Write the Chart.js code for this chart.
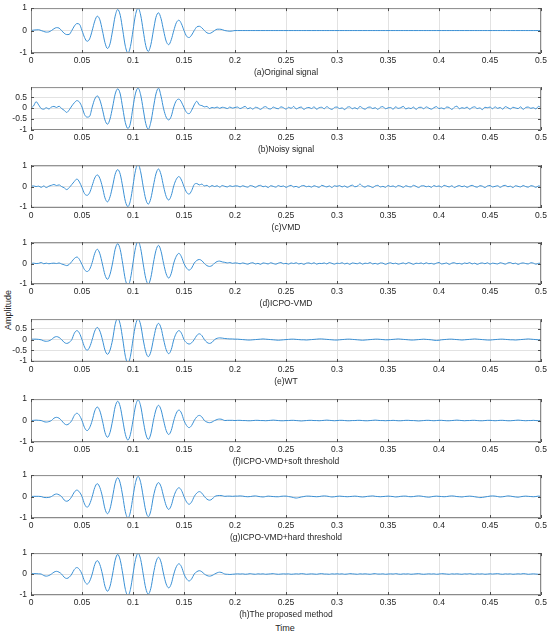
<!DOCTYPE html>
<html>
<head>
<meta charset="utf-8">
<script src="https://cdn.jsdelivr.net/npm/chart.js@4.4.0/dist/chart.umd.min.js"></script>
<style>
body { margin: 0; background: #fff; }
#wrap { position: relative; width: 550px; height: 644px; font-family: "Liberation Sans", Arial, sans-serif; color: #262626; }
canvas { position: absolute; left: 0; }
.lbl { position: absolute; font-size: 9px; transform: translate(-50%, -50%); white-space: nowrap; }
#ylab { left: 8px; top: 310px; transform: translate(-50%, -50%) rotate(-90deg); }
#xlab { left: 285px; top: 628px; }
</style>
</head>
<body>
<div id="wrap">
  <div class="lbl" id="ylab">Amplitude</div>
  <div class="lbl" id="xlab">Time</div>
</div>
<script>
// sample instants, 0 .. 0.5 s every 0.0025 s
const time = Array.from({ length: 201 }, (_, i) => +(i * 0.0025).toFixed(4));

const xTicks = [0, 0.05, 0.1, 0.15, 0.2, 0.25, 0.3, 0.35, 0.4, 0.45, 0.5];
const yTicksUnit = [-1, 0, 1];
const yTicksHalf = [-1, -0.5, 0, 0.5];

const captions = ['(a)Original signal', '(b)Noisy signal', '(c)VMD', '(d)ICPO-VMD', '(e)WT',
  '(f)ICPO-VMD+soft threshold', '(g)ICPO-VMD+hard threshold', '(h)The proposed method'];

const original = [
  0,0.02,0.03,0.035,0,-0.04,-0.07,-0.06,0,0.08,0.13,0.11,0,-0.12,-0.18,-0.17,0,0.2,0.31,0.28,
  0,-0.31,-0.48,-0.37,0,0.42,0.64,0.48,0,-0.54,-0.8,-0.59,0,0.64,0.94,0.68,0,-0.7,-1.0,-0.71,
  0,0.71,1.0,0.69,0,-0.67,-0.93,-0.63,0,0.59,0.79,0.53,0,-0.47,-0.63,-0.41,0,0.35,0.46,0.3,
  0,-0.25,-0.31,-0.2,0,0.16,0.19,0.12,0,-0.1,-0.13,-0.08,0,0.06,0.06,0.04,0,-0.02,-0.03,-0.02,
  0,
  0,0,0,0,0,0,0,0,0,0,0,0,0,0,0,0,0,0,0,0,
  0,0,0,0,0,0,0,0,0,0,0,0,0,0,0,0,0,0,0,0,
  0,0,0,0,0,0,0,0,0,0,0,0,0,0,0,0,0,0,0,0,
  0,0,0,0,0,0,0,0,0,0,0,0,0,0,0,0,0,0,0,0,
  0,0,0,0,0,0,0,0,0,0,0,0,0,0,0,0,0,0,0,0,
  0,0,0,0,0,0,0,0,0,0,0,0,0,0,0,0,0,0,0,0
];

const noisy = [
  0,0.1,0.3,0.15,-0.02,-0.05,0.02,-0.04,0.05,0.08,0.03,0.09,-0.02,-0.1,-0.2,-0.08,0.1,0.25,0.35,0.28,
  0.05,-0.3,-0.42,-0.38,0.05,0.42,0.57,0.38,-0.05,-0.55,-0.75,-0.5,0.05,0.65,0.9,0.66,-0.02,-0.68,-0.95,-0.7,
  0.05,0.7,0.93,0.62,-0.05,-0.72,-0.98,-0.65,0.02,0.66,0.93,0.55,-0.03,-0.42,-0.55,-0.38,0.06,0.35,0.42,0.28,
  0.02,-0.2,-0.26,-0.1,0.15,0.32,0.15,0.12,0.06,0.08,-0.02,0.03,0.01,0.05,-0.01,0.04,0.02,-0.02,0.05,0.0,
  0.03,
  0.05,-0.02,0.03,0.08,-0.03,0.02,-0.05,0.04,0.01,-0.06,0.03,0.07,-0.02,-0.04,0.05,0.0,-0.03,0.06,0.02,-0.05,
  0.04,-0.01,0.08,-0.04,0.02,0.05,-0.06,0.01,0.03,-0.02,0.06,-0.05,0.02,0.04,-0.03,0.07,-0.01,-0.06,0.03,0.05,
  -0.02,0.01,-0.07,0.04,0.06,-0.03,0.02,-0.04,0.08,0.0,-0.05,0.03,0.05,-0.02,0.02,-0.06,0.04,0.07,-0.03,0.01,
  0.03,-0.05,0.06,-0.01,0.02,0.08,-0.04,0.01,-0.02,0.05,-0.06,0.03,0.04,-0.03,0.06,0.0,-0.05,0.02,0.07,-0.02,
  0.01,-0.04,0.05,0.03,-0.06,0.04,0.09,-0.03,0.02,-0.01,0.05,-0.05,0.03,0.06,-0.02,0.01,-0.07,0.04,0.02,0.05,
  -0.03,0.06,-0.01,0.03,-0.05,0.07,0.02,-0.04,0.04,0.01,-0.02,0.06,-0.06,0.03,0.05,-0.01,0.02,-0.04,0.08,0.03
];

const vmd = [
  0.02,0.03,0.0,0.02,-0.04,0.03,-0.05,0.02,0.06,0.1,0.05,0.08,0.0,-0.06,-0.15,-0.05,0.1,0.25,0.37,0.22,
  -0.05,-0.35,-0.43,-0.3,0.05,0.42,0.57,0.4,-0.02,-0.55,-0.75,-0.5,0.02,0.6,0.83,0.6,-0.04,-0.72,-0.98,-0.68,
  0.05,0.8,1.1,0.72,0.0,-0.62,-0.86,-0.58,0.04,0.62,0.86,0.58,0.0,-0.48,-0.66,-0.44,0.04,0.36,0.49,0.32,
  0.0,-0.28,-0.37,-0.2,0.1,0.15,0.08,0.12,0.03,0.06,-0.02,0.05,0.0,0.04,-0.03,0.05,0.01,-0.02,0.04,0.0,
  0.03,
  0.03,-0.02,0.04,0.0,-0.03,0.05,0.02,-0.04,0.03,0.06,-0.01,0.02,-0.05,0.04,0.01,-0.03,0.05,0.0,0.03,-0.04,
  0.02,0.06,-0.02,0.01,-0.05,0.03,0.05,-0.01,0.02,-0.03,0.04,0.0,-0.04,0.06,0.02,-0.02,0.03,-0.05,0.04,0.01,
  0.05,-0.02,0.03,-0.04,0.02,0.07,-0.01,0.02,0.12,0.02,-0.03,0.04,0.01,-0.05,0.03,0.06,-0.02,0.01,-0.04,0.05,
  0.0,0.03,-0.03,0.05,0.02,-0.04,0.04,0.0,-0.02,0.06,0.01,-0.05,0.03,0.04,-0.01,0.02,-0.04,0.05,0.0,0.03,
  -0.03,0.06,0.02,-0.02,0.04,-0.05,0.01,0.05,-0.01,0.03,-0.04,0.02,0.06,0.0,-0.03,0.04,0.02,-0.05,0.03,0.05,
  -0.02,0.01,0.04,-0.04,0.03,0.06,-0.01,0.02,-0.05,0.04,0.01,-0.02,0.05,0.0,-0.03,0.04,0.02,-0.04,0.03,0.01
];

const icpoVmd = [
  0.0,0.02,0.0,0.01,0.05,-0.01,0.02,-0.01,0.01,0.02,0.0,0.03,-0.02,-0.06,-0.1,-0.04,0.1,0.25,0.32,0.2,
  -0.05,-0.3,-0.39,-0.28,0.05,0.5,0.7,0.48,-0.02,-0.55,-0.77,-0.52,0.03,0.7,0.97,0.68,-0.03,-0.78,-1.08,-0.74,
  0.03,0.78,1.1,0.74,-0.02,-0.72,-1.02,-0.68,0.03,0.64,0.89,0.6,0.0,-0.5,-0.71,-0.48,0.03,0.36,0.5,0.33,
  0.0,-0.22,-0.32,-0.22,0.02,0.15,0.2,0.14,0.0,-0.1,-0.14,-0.1,0.02,0.1,0.12,0.08,0.06,0.03,0.05,0.01,
  0.03,
  0.02,-0.01,0.03,0.0,-0.03,0.02,0.04,-0.02,0.01,-0.04,0.03,0.01,-0.02,0.04,0.0,-0.03,0.02,0.05,-0.01,0.01,
  -0.03,0.03,0.0,0.04,-0.02,0.01,-0.04,0.02,0.03,-0.01,0.04,-0.03,0.01,0.0,0.03,-0.02,0.05,0.01,-0.03,0.02,
  0.0,0.04,-0.02,0.02,-0.04,0.03,0.01,-0.01,0.04,-0.03,0.02,0.0,0.05,-0.02,0.01,-0.03,0.03,0.02,-0.04,0.01,
  0.04,-0.01,0.02,-0.03,0.0,0.03,-0.02,0.05,0.01,-0.04,0.02,0.0,0.03,-0.02,0.04,-0.01,0.01,-0.03,0.02,0.05,
  -0.02,0.0,0.03,-0.04,0.02,0.04,-0.01,0.01,-0.03,0.03,0.0,0.05,-0.02,0.02,-0.04,0.01,0.03,-0.01,0.04,-0.03,
  0.02,0.0,-0.02,0.04,0.01,-0.03,0.03,0.05,-0.01,0.02,-0.04,0.01,0.03,0.0,-0.02,0.04,0.02,-0.03,0.01,0.02
];

const wt = [
  0.02,0.02,0.02,0.01,-0.01,-0.06,-0.08,-0.06,0.0,0.1,0.14,0.1,0.0,-0.13,-0.18,-0.13,0.0,0.3,0.42,0.3,
  0,-0.35,-0.5,-0.35,0,0.4,0.57,0.4,0,-0.49,-0.69,-0.49,0,0.71,1.0,0.71,0,-0.78,-1.1,-0.78,
  0,0.69,0.98,0.69,0,-0.57,-0.8,-0.57,0,0.54,0.76,0.54,0,-0.47,-0.66,-0.47,0,0.3,0.42,0.3,
  0,-0.15,-0.21,-0.15,0,0.19,0.27,0.19,0,-0.13,-0.18,-0.13,0,0.06,0.08,0.07,0.05,0.04,0.03,0.03,
  0.02,
  0.02,0.01,0.0,-0.01,-0.02,-0.02,-0.01,0.0,0.01,0.02,0.03,0.02,0.01,0.0,-0.01,-0.02,-0.03,-0.02,-0.01,0.0,
  0.01,0.02,0.02,0.01,0.0,-0.01,-0.01,-0.02,-0.01,0.0,0.01,0.02,0.03,0.03,0.02,0.01,0.0,-0.01,-0.02,-0.02,
  -0.01,0.0,0.01,0.02,0.02,0.01,0.0,-0.01,-0.02,-0.03,-0.02,-0.01,0.0,0.01,0.02,0.02,0.01,0.0,-0.01,-0.01,
  0.0,0.01,0.02,0.03,0.02,0.01,0.0,-0.01,-0.02,-0.02,-0.01,0.0,0.01,0.02,0.01,0.0,-0.01,-0.03,-0.04,-0.03,
  -0.01,0.0,0.01,0.02,0.02,0.01,0.0,-0.01,-0.02,-0.01,0.0,0.01,0.02,0.03,0.02,0.01,0.0,-0.01,-0.02,-0.02,
  -0.01,0.0,0.01,0.02,0.02,0.01,0.0,-0.01,-0.01,-0.02,-0.01,0.0,0.01,0.02,0.03,0.02,0.01,0.0,-0.01,0.0
];

const softThr = [
  0,0.01,0.02,0.01,0,-0.05,-0.07,-0.05,0,0.11,0.15,0.11,0,-0.14,-0.2,-0.14,0,0.24,0.34,0.24,
  0,-0.33,-0.47,-0.33,0,0.45,0.63,0.45,0,-0.55,-0.78,-0.55,0,0.64,0.9,0.64,0,-0.64,-0.91,-0.64,
  0,0.68,0.96,0.68,0,-0.62,-0.88,-0.62,0,0.5,0.71,0.5,0,-0.46,-0.65,-0.46,0,0.35,0.49,0.35,
  0,-0.23,-0.33,-0.23,0,0.17,0.24,0.17,0,-0.07,-0.1,-0.07,0,0.05,0.07,0.05,0,0.01,0.01,0.01,
  0,
  0.01,0.01,0.0,0.0,-0.01,-0.01,0.0,0.01,0.01,0.0,0.0,-0.01,0.0,0.01,0.02,0.01,0.0,-0.01,-0.01,0.0,
  0.0,0.01,0.01,0.0,-0.01,-0.02,-0.01,0.0,0.01,0.01,0.0,0.0,-0.01,0.0,0.01,0.02,0.01,0.0,-0.01,0.0,
  0.01,0.01,0.0,-0.01,-0.01,0.0,0.0,0.01,0.01,0.0,-0.01,-0.01,0.0,0.01,0.02,0.01,0.0,0.0,-0.01,0.0,
  0.0,0.01,0.0,-0.01,-0.01,0.0,0.01,0.01,0.0,0.0,-0.01,-0.02,-0.01,0.0,0.01,0.01,0.0,-0.01,0.0,0.01,
  0.01,0.0,-0.01,-0.01,0.0,0.01,0.02,0.01,0.0,-0.01,0.0,0.0,0.01,0.01,0.0,-0.01,-0.01,0.0,0.01,0.01,
  0.0,-0.01,0.0,0.01,0.01,0.0,-0.01,-0.01,0.0,0.01,0.02,0.01,0.0,-0.01,0.0,0.0,0.01,0.0,-0.01,0.0
];

const hardThr = [
  0,0.01,0.01,0.01,0,-0.04,-0.05,-0.04,0,0.08,0.12,0.08,0,-0.16,-0.22,-0.16,0,0.21,0.3,0.21,
  0,-0.35,-0.5,-0.35,0,0.42,0.6,0.42,0,-0.57,-0.8,-0.57,0,0.62,0.88,0.62,0,-0.71,-1.0,-0.71,
  0,0.66,0.94,0.66,0,-0.66,-0.94,-0.66,0,0.46,0.65,0.46,0,-0.42,-0.6,-0.42,0,0.29,0.41,0.29,
  0,-0.25,-0.36,-0.25,0,0.16,0.23,0.16,0,-0.12,-0.17,-0.12,0,0.04,0.05,0.04,0.01,0.02,0.02,0.01,
  0.02,
  0.02,0.03,0.02,0.0,-0.01,0.0,0.02,0.03,0.01,-0.01,-0.02,0.0,0.02,0.01,0.0,-0.01,-0.01,0.01,0.02,0.02,
  0.0,-0.02,-0.05,-0.07,-0.05,-0.02,0.0,0.02,0.02,0.01,0.0,-0.01,0.0,0.02,0.03,0.02,0.0,-0.02,-0.01,0.01,
  0.02,0.01,0.0,-0.01,0.0,0.01,0.02,0.01,-0.01,-0.02,-0.01,0.01,0.02,0.03,0.01,0.0,-0.01,0.0,0.01,0.02,
  0.01,0.0,-0.02,-0.01,0.01,0.02,0.02,0.0,-0.01,0.0,0.02,0.03,0.02,0.0,-0.02,-0.03,-0.01,0.01,0.02,0.01,
  0.0,-0.01,0.0,0.02,0.03,0.02,0.0,-0.01,-0.02,0.0,0.01,0.02,0.01,-0.01,-0.03,-0.05,-0.04,-0.02,0.0,0.02,
  0.03,0.02,0.0,-0.02,-0.01,0.01,0.03,0.02,0.0,-0.02,-0.03,-0.01,0.01,0.02,0.01,0.0,-0.01,0.0,0.02,0.01
];

const proposed = [
  0.02,0.02,0.02,0.01,0,-0.07,-0.1,-0.07,0,0.09,0.13,0.09,0,-0.15,-0.21,-0.15,0,0.22,0.31,0.22,
  0,-0.34,-0.48,-0.34,0,0.45,0.64,0.45,0,-0.58,-0.82,-0.58,0,0.66,0.94,0.66,0,-0.73,-1.03,-0.73,
  0,0.7,0.99,0.7,0,-0.68,-0.96,-0.68,0,0.57,0.8,0.57,0,-0.47,-0.66,-0.47,0,0.35,0.49,0.35,
  0,-0.23,-0.33,-0.23,0,0.11,0.16,0.11,0,-0.07,-0.1,-0.07,0,0.06,0.09,0.06,0,-0.01,-0.02,-0.01,
  0,
  0.01,0.0,0.01,-0.01,0.0,0.02,0.0,-0.01,0.01,0.0,0.01,-0.01,0.0,0.01,0.02,0.0,-0.01,0.0,0.01,0.0,
  0.01,-0.01,0.0,0.01,0.0,0.02,0.01,-0.01,0.0,0.01,0.0,-0.01,0.01,0.02,0.0,0.0,-0.01,0.01,0.0,0.01,
  0.0,0.01,-0.01,0.0,0.02,0.01,0.0,-0.01,0.01,0.0,0.01,0.0,-0.01,0.01,0.02,0.0,0.0,0.01,-0.01,0.0,
  0.01,0.0,0.02,0.0,-0.01,0.01,0.0,0.01,-0.01,0.0,0.01,0.02,0.0,-0.01,0.0,0.01,0.0,0.01,-0.01,0.0,
  0.02,0.01,0.0,-0.01,0.01,0.0,0.01,0.0,-0.01,0.01,0.0,0.02,0.0,-0.01,0.01,0.0,0.01,-0.01,0.0,0.01,
  0.0,0.01,0.02,0.0,-0.01,0.01,0.0,0.01,-0.01,0.0,0.01,0.0,0.02,0.01,-0.01,0.0,0.01,0.0,-0.01,0.0
];

const series = [original, noisy, vmd, icpoVmd, wt, softThr, hardThr, proposed];
const yLimits = [[-1, 1], [-1.02, 0.98], [-1.05, 1.05], [-1, 1.05], [-1.05, 0.96], [-1, 1], [-1, 1], [-1, 1]];
const yTickSets = [yTicksUnit, yTicksHalf, yTicksUnit, yTicksUnit, yTicksHalf, yTicksUnit, yTicksUnit, yTicksUnit];

// layout: top of each plot box and its height, in page pixels
const plotTops = [5, 84, 162, 239, 316, 396, 472, 550];
const plotHeights = [48, 46, 46, 45, 46, 46, 46, 45];

const FONT = { family: '"Liberation Sans", Arial, sans-serif', size: 8.5 };
const TEXT = '#262626';
const plain = v => String(v);

const boxPlugin = {
  id: 'box',
  afterDatasetsDraw(chart) {
    const { ctx, chartArea: a, scales: { x, y } } = chart;
    ctx.save();
    ctx.lineWidth = 1;
    ctx.strokeStyle = '#8a8a8a';
    ctx.strokeRect(a.left + 0.5, a.top + 0.5, a.right - a.left - 1, a.bottom - a.top - 1);
    ctx.strokeStyle = '#4d4d4d';
    ctx.beginPath();
    x.ticks.forEach(t => {
      const px = Math.round(x.getPixelForValue(t.value)) + 0.5;
      ctx.moveTo(px, a.top); ctx.lineTo(px, a.top + 3);
      ctx.moveTo(px, a.bottom); ctx.lineTo(px, a.bottom - 3);
    });
    y.ticks.forEach(t => {
      const py = Math.round(y.getPixelForValue(t.value)) + 0.5;
      ctx.moveTo(a.left, py); ctx.lineTo(a.left + 3, py);
      ctx.moveTo(a.right, py); ctx.lineTo(a.right - 3, py);
    });
    ctx.stroke();
    ctx.restore();
  }
};

const wrap = document.getElementById('wrap');

series.forEach((vals, i) => {
  const cv = document.createElement('canvas');
  cv.width = 550;
  cv.height = 6 + plotHeights[i] + 25;
  cv.style.top = (plotTops[i] - 6) + 'px';
  wrap.appendChild(cv);

  new Chart(cv, {
    type: 'line',
    data: {
      datasets: [{
        data: vals.map((v, k) => ({ x: time[k], y: v })),
        borderColor: '#3a90d5',
        borderWidth: 1,
        pointRadius: 0,
        cubicInterpolationMode: 'monotone'
      }]
    },
    options: {
      responsive: false,
      animation: false,
      devicePixelRatio: 1,
      layout: { padding: { top: 6, right: 9, left: 0, bottom: 0 } },
      plugins: { legend: { display: false }, tooltip: { enabled: false } },
      scales: {
        x: {
          type: 'linear',
          min: 0,
          max: 0.5,
          afterBuildTicks: s => { s.ticks = xTicks.map(v => ({ value: v })); },
          afterFit: s => { s.height = 25; },
          ticks: { color: TEXT, font: FONT, padding: 3, maxRotation: 0, autoSkip: false, callback: plain },
          grid: { color: '#e2e2e2', drawTicks: false },
          border: { display: false },
          title: { display: true, text: captions[i], color: TEXT, font: FONT, padding: { top: 0, bottom: 0 } }
        },
        y: {
          min: yLimits[i][0],
          max: yLimits[i][1],
          afterBuildTicks: s => { s.ticks = yTickSets[i].map(v => ({ value: v })); },
          afterFit: s => { s.width = 31; },
          ticks: { color: TEXT, font: FONT, padding: 4, callback: plain },
          grid: { color: '#e2e2e2', drawTicks: false },
          border: { display: false }
        }
      }
    },
    plugins: [boxPlugin]
  });
});
</script>
</body>
</html>
